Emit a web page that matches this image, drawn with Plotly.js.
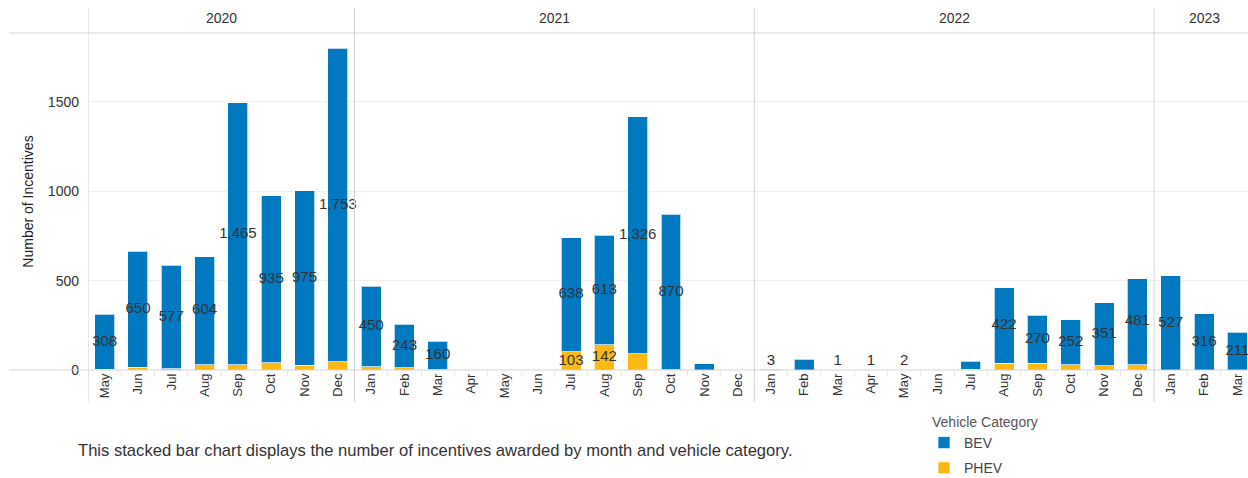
<!DOCTYPE html>
<html>
<head>
<meta charset="utf-8">
<script src="https://cdn.plot.ly/plotly-3.0.1.min.js"></script>
<style>
html,body{margin:0;padding:0;overflow:hidden;background:#fff;}
#chart{width:1254px;height:500px;}
</style>
</head>
<body>
<div id="chart"></div>
<script>
// ---- data ----
const years = ['2020', '2021', '2022', '2023'];
const months2020 = ['May','Jun','Jul','Aug','Sep','Oct','Nov','Dec'];
const months2021 = ['Jan','Feb','Mar','Apr','May','Jun','Jul','Aug','Sep','Oct','Nov','Dec'];
const months2022 = ['Jan','Feb','Mar','Apr','May','Jun','Jul','Aug','Sep','Oct','Nov','Dec'];
const months2023 = ['Jan','Feb','Mar'];
const monthsByYear = [months2020, months2021, months2022, months2023];

const bev = [308, 650, 577, 604, 1465, 935, 975, 1753,
             450, 243, 160, 0, 0, 0, 638, 613, 1326, 870, 35, 0,
             3, 60, 1, 1, 2, 0, 45, 422, 270, 252, 351, 481,
             527, 316, 211];
const phev = [4, 16, 8, 30, 30, 40, 28, 47,
              18, 14, 2, 0, 0, 0, 103, 142, 90, 2, 0, 0,
              0, 0, 0, 0, 0, 0, 3, 37, 37, 30, 25, 30,
              0, 0, 0];
// which values carry a visible label in the reference
const bevShown = [1,1,1,1,1,1,1,1,
                  1,1,1,0,0,0,1,1,1,1,0,0,
                  1,0,1,1,1,0,0,1,1,1,1,1,
                  1,1,1];
const phevShown = [0,0,0,0,0,0,0,0,
                   0,0,0,0,0,0,1,1,0,0,0,0,
                   0,0,0,0,0,0,0,0,0,0,0,0,
                   0,0,0];
const legendTitle = 'Vehicle Category';
const caption = 'This stacked bar chart displays the number of incentives awarded by month and vehicle category.';

// ---- build ----
const xKeys = [], tickText = [], boundaries = [], yearCenters = [];
let idx = 0;
monthsByYear.forEach((ms, yi) => {
  const start = idx;
  ms.forEach(m => { xKeys.push(years[yi] + '-' + m); tickText.push(m); idx++; });
  yearCenters.push((start + idx - 1) / 2);
  boundaries.push(start - 0.5);
});

const fmt = v => v.toLocaleString('en-US');
const BLUE = '#0079c1', YELLOW = '#fdb913';
const FONT = 'Arial, "Liberation Sans", sans-serif';
// page is 1248x478; the figure is slightly larger and cropped by the window
const W = 1254, H = 500, ML = 88, MT = 33, MB = 130;
const plotW = W - ML, plotH = H - MT - MB;
const py = px => (H - MB - px) / plotH;   // pixel row -> paper y
const pxx = px => (px - ML) / plotW;      // pixel col -> paper x

const bevLabY = bev.map((v, i) => Math.max(phev[i] + v / 2, 50));
const phevLabY = phev.map(v => v / 2);

const traces = [
  {type: 'bar', name: 'PHEV', x: xKeys, y: phev, legendrank: 2, legendgroup: 'p', marker: {color: YELLOW, line: {color: 'rgba(255,255,255,0.7)', width: 1}}, width: 0.6, hoverinfo: 'x+y+name'},
  {type: 'bar', name: 'BEV', x: xKeys, y: bev, legendrank: 1, legendgroup: 'b', marker: {color: BLUE, line: {color: 'rgba(255,255,255,0.7)', width: 1}}, width: 0.6, hoverinfo: 'x+y+name'},
  {type: 'scatter', mode: 'text', x: xKeys, y: bevLabY, text: bev.map((v, i) => bevShown[i] ? fmt(v) : ''), textposition: 'middle center', textfont: {family: FONT, size: 15, color: '#333'}, showlegend: false, hoverinfo: 'skip', cliponaxis: true},
  {type: 'scatter', mode: 'text', x: xKeys, y: phevLabY, text: phev.map((v, i) => phevShown[i] ? fmt(v) : ''), textposition: 'middle center', textfont: {family: FONT, size: 15, color: '#333'}, showlegend: false, hoverinfo: 'skip', cliponaxis: true}
];

const shapes = [];
const lineCol = '#d3d3d3';
boundaries.forEach(b => {
  shapes.push({type: 'line', xref: 'x', yref: 'paper', x0: b, x1: b, y0: py(402), y1: py(8), line: {color: lineCol, width: 1}});
});
shapes.push({type: 'line', xref: 'paper', yref: 'paper', x0: pxx(9), x1: 1, y0: 1, y1: 1, line: {color: lineCol, width: 1}});
shapes.push({type: 'line', xref: 'paper', yref: 'paper', x0: pxx(9), x1: 1, y0: 0, y1: 0, line: {color: lineCol, width: 1}});

const annotations = years.map((yr, i) => ({
  xref: 'x', yref: 'paper', x: yearCenters[i], y: py(18), text: yr, showarrow: false,
  font: {family: FONT, size: 14, color: '#333'}, xanchor: 'center', yanchor: 'middle'
}));
annotations.push({
  xref: 'paper', yref: 'paper', x: pxx(76), y: py(450), text: caption, showarrow: false,
  xanchor: 'left', yanchor: 'middle', font: {family: FONT, size: 16.6, color: '#333'}
});
annotations.push({
  xref: 'paper', yref: 'paper', x: pxx(930), y: py(422), text: legendTitle, showarrow: false,
  xanchor: 'left', yanchor: 'middle', font: {family: FONT, size: 14, color: '#555'}
});

const layout = {
  width: W, height: H,
  margin: {l: ML, r: 0, t: MT, b: MB},
  paper_bgcolor: '#fff', plot_bgcolor: '#fff',
  barmode: 'stack',
  font: {family: FONT, color: '#333'},
  xaxis: {
    type: 'category', tickvals: xKeys, ticktext: tickText, tickangle: -90,
    range: [-0.5, xKeys.length - 0.5], automargin: false,
    showgrid: false, zeroline: false, showline: false,
    ticks: 'outside', tickson: 'boundaries', ticklen: 5, tickcolor: '#e8e8e8',
    tickfont: {family: FONT, size: 13, color: '#333'}, fixedrange: true
  },
  yaxis: {
    range: [0, 1886], tickvals: [0, 500, 1000, 1500], ticktext: ['0', '500', '1000', '1500'],
    showgrid: true, gridcolor: '#efefef', zeroline: false, showline: false, automargin: false,
    ticks: '', ticklabelstandoff: 8,
    tickfont: {family: FONT, size: 14, color: '#333'},
    title: {text: 'Number of Incentives', font: {family: FONT, size: 14, color: '#222'}, standoff: 10},
    fixedrange: true
  },
  legend: {
    x: pxx(924), xanchor: 'left', y: py(427), yanchor: 'top',
    font: {family: FONT, size: 14, color: '#444'}, traceorder: 'grouped', tracegroupgap: 4
  },
  shapes: shapes,
  annotations: annotations,
  showlegend: true
};

Plotly.newPlot('chart', traces, layout, {displayModeBar: false});
</script>
</body>
</html>
